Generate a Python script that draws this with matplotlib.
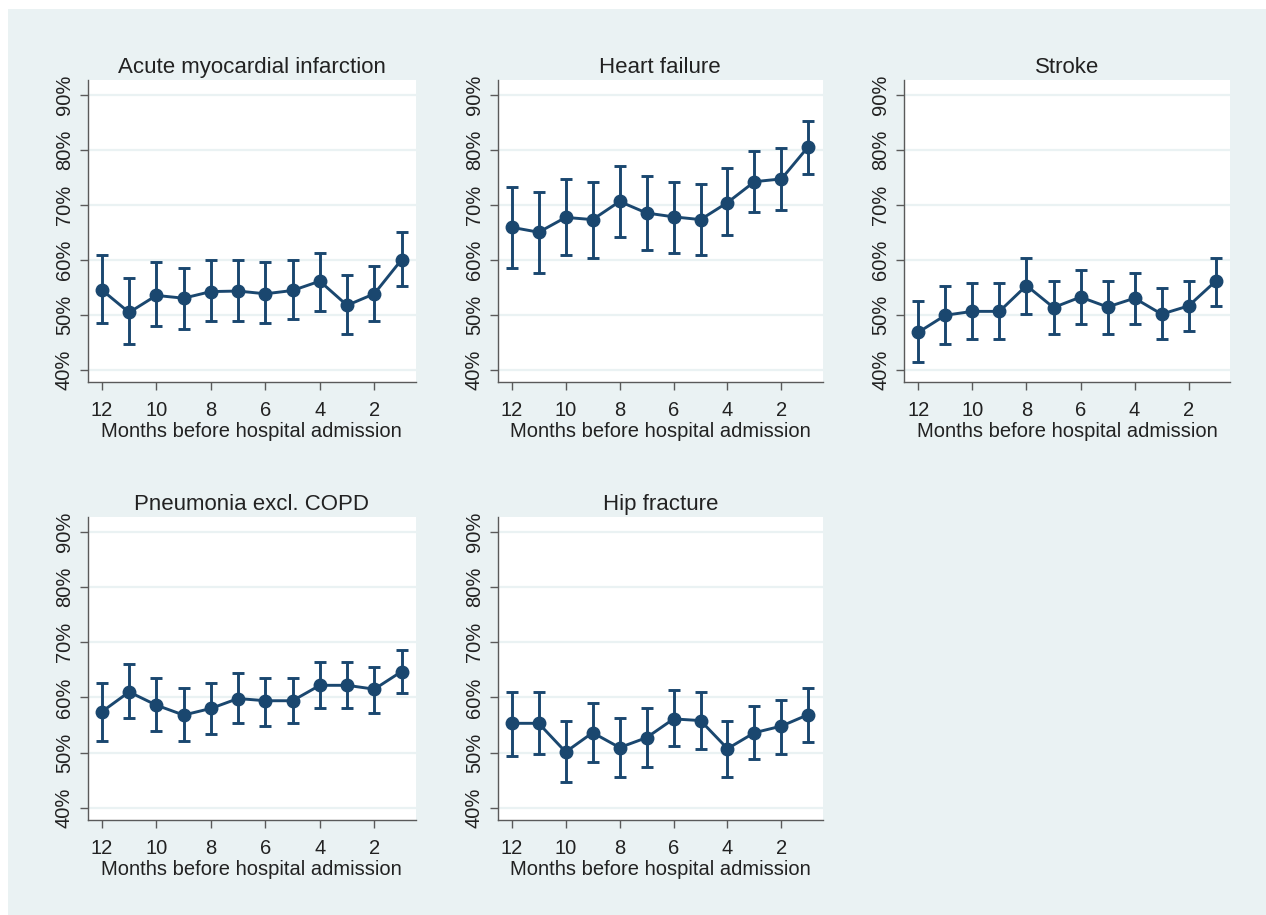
import matplotlib.pyplot as plt
from matplotlib.patches import Rectangle
from matplotlib.ticker import FuncFormatter

plt.rcParams['font.family'] = ['Liberation Sans', 'DejaVu Sans']

# months before hospital admission
months = [12, 11, 10, 9, 8, 7, 6, 5, 4, 3, 2, 1]

titles = ['Acute myocardial infarction', 'Heart failure', 'Stroke',
          'Pneumonia excl. COPD', 'Hip fracture']

# point estimates (%)
ami = [54.5, 50.4, 53.5, 53.0, 54.2, 54.3, 53.8, 54.4, 56.1, 51.7, 53.8, 60.0]
hf = [65.9, 65.0, 67.7, 67.3, 70.6, 68.5, 67.8, 67.3, 70.4, 74.2, 74.7, 80.6]
stroke = [46.8, 49.9, 50.6, 50.6, 55.3, 51.3, 53.2, 51.4, 53.0, 50.1, 51.6, 56.1]
pneu = [57.4, 61.0, 58.6, 56.8, 58.0, 59.8, 59.4, 59.4, 62.2, 62.2, 61.5, 64.7]
hip = [55.3, 55.3, 50.1, 53.6, 50.9, 52.7, 56.1, 55.8, 50.7, 53.6, 54.8, 56.9]

# upper confidence limits
ami_hi = [60.8, 56.7, 59.5, 58.5, 59.9, 59.9, 59.5, 59.9, 61.3, 57.2, 58.9, 65.0]
hf_hi = [73.3, 72.4, 74.7, 74.2, 77.0, 75.2, 74.2, 73.7, 76.6, 79.8, 80.3, 85.3]
stroke_hi = [52.5, 55.3, 55.8, 55.8, 60.4, 56.2, 58.1, 56.2, 57.6, 54.8, 56.2, 60.3]
pneu_hi = [62.7, 66.0, 63.6, 61.8, 62.7, 64.5, 63.6, 63.6, 66.4, 66.4, 65.5, 68.7]
hip_hi = [60.9, 60.9, 55.8, 59.0, 56.3, 58.1, 61.3, 60.9, 55.8, 58.5, 59.5, 61.8]

# lower confidence limits
ami_lo = [48.4, 44.7, 47.9, 47.4, 48.8, 48.8, 48.4, 49.3, 50.7, 46.5, 48.8, 55.3]
hf_lo = [58.5, 57.6, 60.8, 60.3, 64.1, 61.8, 61.3, 60.8, 64.5, 68.7, 69.1, 75.6]
stroke_lo = [41.4, 44.7, 45.6, 45.6, 50.2, 46.5, 48.3, 46.5, 48.3, 45.6, 47.0, 51.5]
pneu_lo = [52.1, 56.2, 53.9, 52.1, 53.3, 55.3, 54.8, 55.3, 58.0, 58.0, 57.1, 60.8]
hip_lo = [49.3, 49.7, 44.6, 48.3, 45.5, 47.4, 51.2, 50.6, 45.5, 48.8, 49.7, 52.0]

estimates = [ami, hf, stroke, pneu, hip]
uppers = [ami_hi, hf_hi, stroke_hi, pneu_hi, hip_hi]
lowers = [ami_lo, hf_lo, stroke_lo, pneu_lo, hip_lo]

navy = '#1a476f'
bg = '#eaf2f3'
spine_col = '#5a5a5a'
txt = '#222222'

W, H = 1266, 915
fig = plt.figure(figsize=(W / 100, H / 100), dpi=100)
fig.patch.set_facecolor('white')
fig.patches.append(Rectangle((8 / W, 0), 1 - 8 / W, 1 - 9 / H, transform=fig.transFigure,
                             facecolor=bg, edgecolor='none', lw=0, zorder=-10))

# axes boxes in pixels: left, right / top, bottom
cols = [(87.7, 416), (497.7, 822.7), (904.3, 1230)]
rows = [(80, 382), (517.3, 820)]

for k in range(5):
    r, c = divmod(k, 3)
    left, right = cols[c]
    top, bottom = rows[r]
    ax = fig.add_axes([left / W, 1 - bottom / H, (right - left) / W, (bottom - top) / H])
    ax.set_facecolor('white')

    est = estimates[k]
    yerr = [[e - l for e, l in zip(est, lowers[k])], [u - e for e, u in zip(est, uppers[k])]]
    ax.errorbar(months, est, yerr=yerr, color=navy, lw=2.1, elinewidth=2.1,
                capsize=4, capthick=2.1, marker='o', markersize=9, zorder=3)

    ax.set_xlim(12.52, 0.47)
    ax.set_ylim(37.75, 92.7)
    ax.set_xticks([12, 10, 8, 6, 4, 2])
    ax.set_yticks([40, 50, 60, 70, 80, 90])
    ax.yaxis.set_major_formatter(FuncFormatter(lambda v, p: f'{v:.0f}%'))
    ax.grid(axis='y', color=bg, lw=1.6, zorder=0)
    ax.set_axisbelow(True)

    for s in ['top', 'right']:
        ax.spines[s].set_visible(False)
    for s in ['left', 'bottom']:
        ax.spines[s].set_color(spine_col)
        ax.spines[s].set_linewidth(1.0)

    ax.tick_params(axis='both', colors=spine_col, length=6, width=1.0,
                   labelsize=14.5, labelcolor=txt)
    ax.tick_params(axis='x', pad=8)
    ax.tick_params(axis='y', pad=4)
    for lab in ax.get_yticklabels():
        lab.set_rotation(90)
        lab.set_va('center')

    ax.set_title(titles[k], fontsize=16, color=txt, pad=5)
    ax.set_xlabel('Months before hospital admission', fontsize=14.5, color=txt, labelpad=1)

fig.savefig('out.png', dpi=100, facecolor=fig.get_facecolor())
